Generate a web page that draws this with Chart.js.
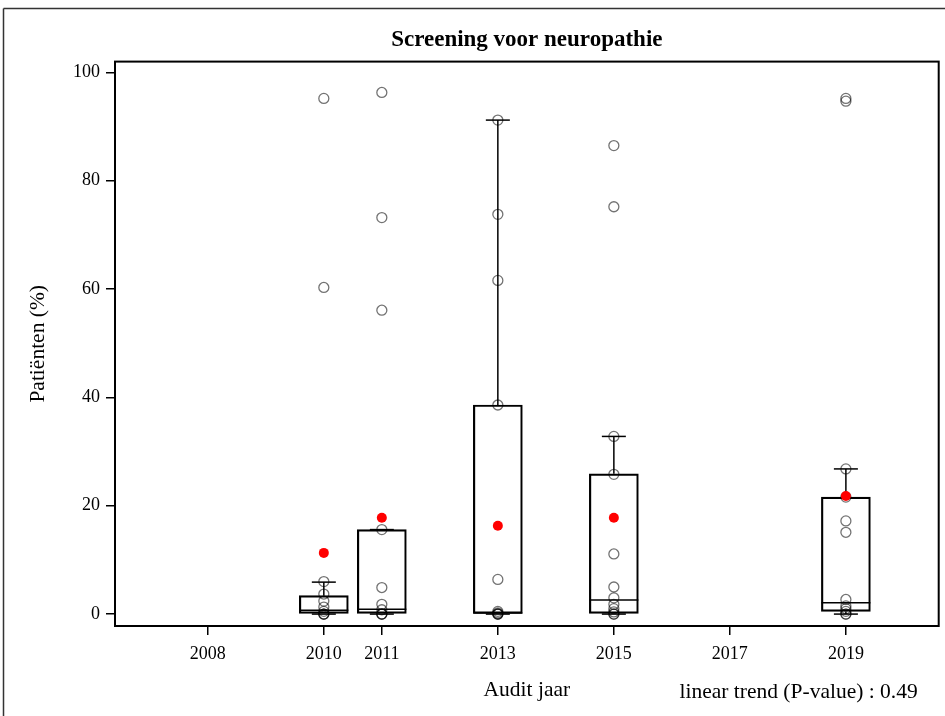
<!DOCTYPE html>
<html>
<head>
<meta charset="utf-8">
<script src="https://cdn.jsdelivr.net/npm/chart.js@4"></script>
<style>
    html, body { margin: 0; padding: 0; background: #fff; }
</style>
</head>
<body>
<canvas id="neuroChart" width="945" height="716"></canvas>
<script>
var years = [2010, 2011, 2013, 2015, 2019];
var xTicks = [2008, 2010, 2011, 2013, 2015, 2017, 2019];
var yTicks = [0, 20, 40, 60, 80, 100];

// box statistics per audit year
var whiskerLow = [0, 0, 0, 0, 0];
var q1 = [0, 0, 0, 0, 0.5];
var median = [0.7, 0.9, 0.2, 2.6, 2.1];
var q3 = [3.4, 15.6, 38.6, 25.9, 21.6];
var whiskerHigh = [5.9, 15.6, 91.2, 32.8, 26.8];
var means = [11.3, 17.8, 16.3, 17.8, 21.8];

// individual percentages per audit year
var pts2010 = [95.2, 60.3, 6.0, 3.7, 2.4, 1.3, 0.5, 0, 0, 0];
var pts2011 = [96.3, 73.2, 56.1, 15.6, 4.9, 1.8, 0.8, 0, 0, 0];
var pts2013 = [91.2, 73.8, 61.6, 38.6, 6.4, 0.5, 0.2, 0, 0, 0];
var pts2015 = [86.5, 75.2, 32.8, 25.8, 11.1, 5.0, 3.0, 1.8, 1.0, 0.4, 0, 0];
var pts2019 = [95.2, 94.7, 26.8, 21.6, 17.2, 15.1, 2.7, 1.5, 1.0, 0.5, 0, 0];

var trendText = 'linear trend (P-value) : 0.49';

var allPts = [pts2010, pts2011, pts2013, pts2015, pts2019];
var scatterData = [];
allPts.forEach(function (list, i) {
    list.forEach(function (v) {
        scatterData.push({x: years[i], y: v});
    });
});
var boxData = years.map(function (yr, i) { return {x: yr, y: [q1[i], q3[i]]}; });
var meanData = years.map(function (yr, i) { return {x: yr, y: means[i]}; });

Chart.defaults.font.family = '"Liberation Serif", "Times New Roman", serif';
Chart.defaults.font.size = 18;
Chart.defaults.color = '#000';

function line(ctx, x1, y1, x2, y2) {
    ctx.beginPath();
    ctx.moveTo(x1, y1);
    ctx.lineTo(x2, y2);
    ctx.stroke();
}

var boxExtras = {
    id: 'boxExtras',
    beforeDatasetsDraw: function (chart) {
        var ctx = chart.ctx;
        var xs = chart.scales.x, ys = chart.scales.y;
        var bars = chart.getDatasetMeta(2).data;
        ctx.save();
        ctx.strokeStyle = '#000';
        ctx.lineWidth = 1.5;
        years.forEach(function (yr, i) {
            var px = xs.getPixelForValue(yr);
            var half = bars[i].width / 2;
            var cap = 12;
            // whiskers with caps
            line(ctx, px, ys.getPixelForValue(q3[i]), px, ys.getPixelForValue(whiskerHigh[i]));
            line(ctx, px - cap, ys.getPixelForValue(whiskerHigh[i]), px + cap, ys.getPixelForValue(whiskerHigh[i]));
            line(ctx, px, ys.getPixelForValue(q1[i]), px, ys.getPixelForValue(whiskerLow[i]));
            line(ctx, px - cap, ys.getPixelForValue(whiskerLow[i]), px + cap, ys.getPixelForValue(whiskerLow[i]));
            // median
            line(ctx, px - half, ys.getPixelForValue(median[i]), px + half, ys.getPixelForValue(median[i]));
        });
        ctx.restore();
    },
    afterDraw: function (chart) {
        var ctx = chart.ctx;
        var a = chart.chartArea;
        ctx.save();
        // plot frame
        ctx.strokeStyle = '#000';
        ctx.lineWidth = 2;
        ctx.strokeRect(a.left, a.top, a.right - a.left, a.bottom - a.top);
        // outer frame
        ctx.strokeStyle = '#333';
        ctx.lineWidth = 1.5;
        line(ctx, 3.5, 8.5, 3.5, 716);
        line(ctx, 3.5, 8.5, 945, 8.5);
        // trend note
        ctx.fillStyle = '#000';
        ctx.font = '21.5px "Liberation Serif", serif';
        ctx.textAlign = 'right';
        ctx.textBaseline = 'middle';
        ctx.fillText(trendText, a.right - 21, 692);
        ctx.restore();
    }
};

var ctx = document.getElementById('neuroChart');
var myChart = new Chart(ctx, {
    type: 'bar',
    plugins: [boxExtras],
    data: {
        datasets: [{
            type: 'scatter',
            label: 'Means',
            data: meanData,
            pointRadius: 5,
            pointBackgroundColor: '#ff0000',
            pointBorderColor: '#ff0000',
            pointBorderWidth: 0,
            order: 0
        }, {
            type: 'scatter',
            label: 'Centres',
            data: scatterData,
            pointRadius: 5,
            pointBackgroundColor: 'rgba(0,0,0,0)',
            pointBorderColor: 'rgba(0,0,0,0.55)',
            pointBorderWidth: 1.3,
            order: 1
        }, {
            type: 'bar',
            label: 'Box',
            data: boxData,
            barThickness: 49,
            grouped: false,
            backgroundColor: 'rgba(0,0,0,0)',
            borderColor: '#000',
            borderWidth: 1.5,
            borderSkipped: false,
            order: 2
        }]
    },
    options: {
        responsive: false,
        animation: false,
        devicePixelRatio: 1,
        layout: { padding: { right: 6 } },
        plugins: {
            legend: { display: false },
            tooltip: { enabled: false },
            title: {
                display: true,
                text: 'Screening voor neuropathie',
                fullSize: false,
                font: { size: 23, weight: 'bold' },
                padding: { top: 26, bottom: 8 }
            }
        },
        scales: {
            x: {
                type: 'linear',
                min: 2006.4,
                max: 2020.6,
                offset: false,
                afterBuildTicks: function (scale) {
                    scale.ticks = xTicks.map(function (v) { return {value: v}; });
                },
                afterFit: function (scale) { scale.height = 90; },
                ticks: {
                    padding: 8,
                    callback: function (v) { return String(v); }
                },
                grid: { offset: false, drawOnChartArea: false, drawTicks: true, tickLength: 9, color: '#000', lineWidth: 1.5 },
                border: { display: false },
                title: {
                    display: true,
                    text: 'Audit jaar',
                    font: { size: 21.5 },
                    padding: { top: 0, bottom: 13 }
                }
            },
            y: {
                type: 'linear',
                min: -2.2,
                max: 102,
                afterBuildTicks: function (scale) {
                    scale.ticks = yTicks.map(function (v) { return {value: v}; });
                },
                afterFit: function (scale) { scale.width = 115; },
                ticks: { padding: 6 },
                grid: { drawOnChartArea: false, drawTicks: true, tickLength: 9, color: '#000', lineWidth: 1.5 },
                border: { display: false },
                title: {
                    display: true,
                    text: 'Patiënten (%)',
                    font: { size: 21.5 },
                    padding: { top: 25, bottom: 0 }
                }
            }
        }
    }
});
</script>
</body>
</html>
